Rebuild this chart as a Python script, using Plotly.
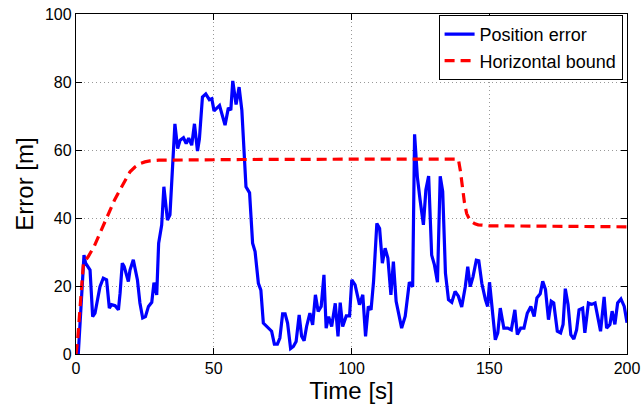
import plotly.graph_objects as go

# position error trace
err_t = [0, 0.85, 2.9, 3.5, 5.1, 6.05, 6.9, 8.7, 9.9, 11.1, 12.1, 12.9, 14.2, 15.4, 16, 16.8,
         17.5, 19, 19.6, 20.8, 22.3, 23.2, 24.2, 25.2, 26.3, 27.5, 28.3, 29.3, 30, 31.1,
         31.9, 33.2, 34.1, 35.1, 35.9, 36.9, 37.8, 39, 40, 40.9, 42, 43, 44.1, 44.8, 45.9,
         47.1, 48.4, 49.3, 50.1, 52.1, 54.1, 55.3, 56.2, 56.9, 58.1, 59.2, 60.2, 61.7, 63,
         64.1, 65, 66.2, 67.1, 68, 69.8, 71, 72, 73.1, 74, 75, 75.9, 76.8, 77.9, 78.9, 79.9,
         81, 81.9, 82.8, 83.7, 84.9, 85.9, 86.9, 87.9, 89, 90, 90.8, 91.7, 92.8, 94.1, 95.1,
         95.9, 96.8, 98.1, 99.3, 100.1, 101.3, 102.9, 104.1, 105.1, 106.1, 107.1, 108,
         109.2, 110.2, 111.2, 112.2, 113.2, 114.3, 115.2, 116.2, 118.2, 119.5, 121, 122.2,
         122.9, 123.9, 124.9, 126.1, 127, 128, 129.1, 130.1, 131.2, 132.2, 133.1, 134.1,
         135.2, 136.4, 137.6, 138.8, 140, 141.3, 142.2, 143.1, 144.1, 145.3, 146.2, 147.3,
         148.6, 149.4, 150.1, 151, 152.2, 153.1, 154, 155.3, 156.7, 158, 159.3, 160.2,
         161.4, 162.6, 163.8, 165.1, 166.3, 167.3, 168.5, 169.4, 170.4, 171.5, 172.5,
         173.4, 174.7, 175.9, 176.8, 177.6, 178.6, 179.6, 180.7, 181.7, 182.6, 183.9,
         184.7, 186, 187.2, 188.4, 189.3, 190.4, 191.7, 192.6, 193.8, 194.6, 195.6, 196.6,
         197.8, 199, 200]
err_v = [0.5, 0.3, 29.1, 26.7, 24.7, 11, 12, 19.8, 22.3, 21.8, 13.5, 14.5, 14.2, 13, 17.9, 26.7,
         25.7, 21.3, 24.7, 27.7, 21.8, 15, 10.6, 11, 14, 15.2, 21, 17.4, 32.6, 37.9,
         49.2, 39.4, 40.9, 57, 67.7, 60.4, 62.9, 63.6, 61.9, 63.5, 61.4, 67.7, 59.7, 63.3, 75.6,
         76.5, 74.8, 75.1, 71.5, 73.1, 67.3, 72.4, 71.7, 80.3, 73.4, 78.5, 71.7, 49.2, 47.4,
         32.6, 30.1, 20.8, 18.8, 9.1, 7.6, 6.7, 2.9, 2.9, 4.7, 11.8, 11.8, 9.1, 1.6, 2.2, 3.7,
         11.5, 5.2, 3.9, 8.1, 12, 8.6, 17.4, 12.5, 14, 23.3, 7.6, 11, 8.1, 14.9, 5.2,
         15.1, 8.1, 11.2, 11.2, 21.8, 20.3, 14.5, 17.4, 5.2, 14, 13, 21.3,
         38.4, 36.9, 26.7, 31.1, 28.2, 17.4, 27.2, 15.5, 7.6, 11.1, 21.1, 19.8,
         64.6, 52.1, 45.3, 38, 48.3, 52.3, 29.1, 26.2, 21.1, 52.3, 47.8, 23.8,
         16, 15.2, 18.4, 17, 13.8, 19.8, 25.7, 19.8, 22.7, 27.6, 27.4, 20.8,
         16, 14, 21.1, 14, 4.2, 6.2, 13.5, 7.6, 7.6, 7.1, 13, 5.7,
         7.6, 7.6, 12, 14, 11, 16.5, 17.7, 21.4, 19, 10.1, 15.5,
         15, 6.7, 6.2, 8.7, 19.2, 14.6, 5.7, 4.4, 7.1, 13, 13.5,
         6.2, 15, 14.6, 15, 11.6, 6.7, 16.8, 7.6, 8.7, 12.6, 8.7, 15,
         16.2, 14, 9.2]

# horizontal protection bound
bound_t = [0, 0.6, 2.7, 4.4, 6.5, 8.7, 10.5, 12.3, 14, 15.9, 17.8, 19.6, 21.4, 23.2, 25,
           26.8, 30, 40, 60, 100, 138.8, 139.5, 140.2, 141, 141.8, 142.7, 143.6, 144.8,
           146, 148, 150, 170, 200]
bound_v = [0, 4.2, 26.7, 28.6, 31.5, 35.5, 39, 42.3, 45.3, 48.2, 51, 53.6, 55, 56, 56.5,
           56.8, 57, 57.1, 57.2, 57.3, 57.3, 54, 49.2, 44.5, 41.3, 39.8, 38.9, 38.3,
           38, 37.8, 37.7, 37.6, 37.4]

fig = go.Figure()
fig.add_trace(go.Scatter(x=err_t, y=err_v, mode="lines", name="Position error",
                         line=dict(color="#0000ff", width=3.2)))
fig.add_trace(go.Scatter(x=bound_t, y=bound_v, mode="lines", name="Horizontal bound",
                         line=dict(color="#ff0000", width=3.2, dash="10px,6px")))

ax = dict(showline=True, linecolor="black", linewidth=1.3, mirror="ticks",
          ticks="inside", ticklen=6, tickcolor="black", automargin=False,
          showgrid=True, gridcolor="#999999", griddash="1px,3px", gridwidth=1,
          zeroline=False, tickfont=dict(size=16, color="black"))

fig.update_xaxes(ax, range=[0, 200], tickvals=[0, 50, 100, 150, 200],
                 title=dict(text="Time [s]", font=dict(size=24, color="black"), standoff=0))
fig.update_yaxes(ax, range=[0, 100], tickvals=[0, 20, 40, 60, 80, 100],
                 title=dict(text="Error [m]", font=dict(size=24, color="black"), standoff=4))

fig.update_layout(width=642, height=410, margin=dict(l=76, r=15, t=14, b=56),
                  plot_bgcolor="white", paper_bgcolor="white",
                  font=dict(family="Liberation Sans, Arial, sans-serif", color="black"),
                  legend=dict(x=0.992, y=0.997, xanchor="right", yanchor="top",
                              bgcolor="white", bordercolor="black", borderwidth=1,
                              font=dict(size=18), tracegroupgap=0, itemwidth=30),
                  showlegend=True)

# drop the default page margin so the figure sits at the window's corner
fig.write_html("out.html", config={"displayModeBar": False},
               post_script="document.body.style.margin='0';")
